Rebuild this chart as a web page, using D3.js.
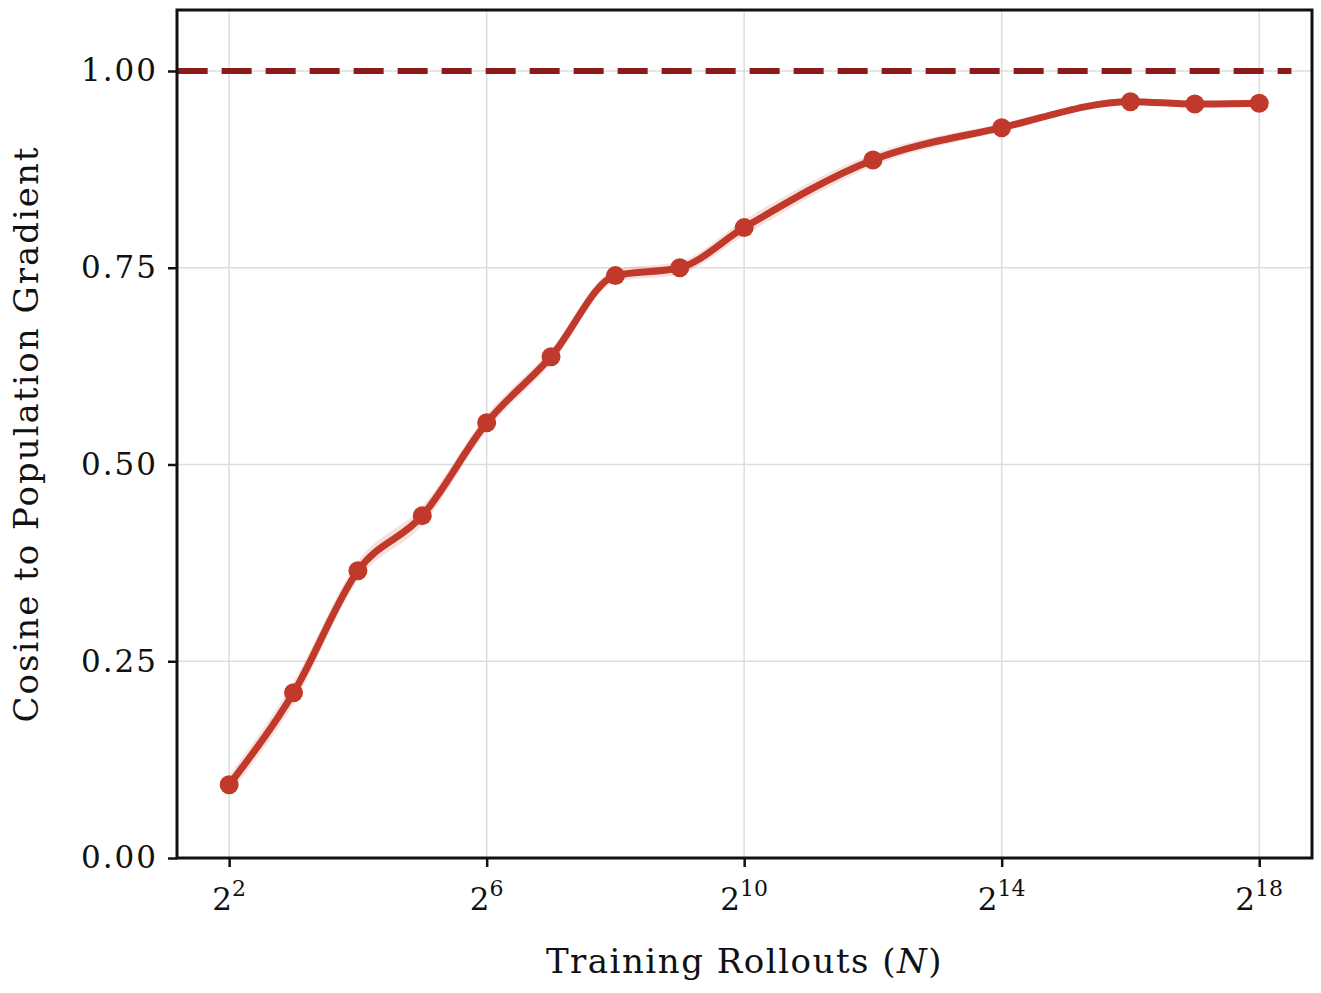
<!DOCTYPE html>
<html><head><meta charset="utf-8">
<script src="https://cdn.jsdelivr.net/npm/d3@7"></script>
<style>body{margin:0;background:#fff}text{font-family:"DejaVu Serif",serif;fill:#111}</style>
</head><body>
<script>
// exponents of 2 for the rollout counts
const exponents = [2, 3, 4, 5, 6, 7, 8, 9, 10, 12, 14, 16, 17, 18];
const cosine = [0.093, 0.210, 0.365, 0.435, 0.553, 0.637, 0.740, 0.750, 0.801, 0.887, 0.928, 0.961, 0.958, 0.959];
const bandWidth = [0.012, 0.014, 0.012, 0.012, 0.010, 0.009, 0.008, 0.008, 0.010, 0.008, 0.005, 0.004, 0.003, 0.003];
const yTicks = [0, 0.25, 0.5, 0.75, 1.0];
const xTicks = [2, 6, 10, 14, 18];

const W = 1321, H = 993;
const m = {left: 177, right: 9, top: 10, bottom: 135};
const svg = d3.select("body").append("svg").attr("width", W).attr("height", H);

const x = d3.scaleLinear().domain([1.19, 18.82]).range([m.left, W - m.right]);
const y = d3.scaleLinear().domain([0, 1.0775]).range([H - m.bottom, m.top]);

// grid
svg.append("g").selectAll("line").data(xTicks).enter().append("line")
  .attr("x1", d => x(d)).attr("x2", d => x(d)).attr("y1", m.top).attr("y2", H - m.bottom)
  .attr("stroke", "#ddd").attr("stroke-width", 1.5);
svg.append("g").selectAll("line").data(yTicks).enter().append("line")
  .attr("y1", d => y(d)).attr("y2", d => y(d)).attr("x1", m.left).attr("x2", W - m.right)
  .attr("stroke", "#ddd").attr("stroke-width", 1.5);

// reference line at 1
svg.append("line").attr("x1", x(1.2)).attr("x2", x(18.5))
  .attr("y1", y(1)).attr("y2", y(1))
  .attr("stroke", "#8b1a1a").attr("stroke-width", 6).attr("stroke-dasharray", "30,14");

const pts = exponents.map((e, i) => ({e, v: cosine[i], s: bandWidth[i]}));

// uncertainty band
svg.append("path").datum(pts)
  .attr("d", d3.area().x(d => x(d.e)).y0(d => y(d.v - d.s)).y1(d => y(d.v + d.s)).curve(d3.curveMonotoneX))
  .attr("fill", "#c0392b").attr("opacity", 0.15);

svg.append("path").datum(pts)
  .attr("d", d3.line().x(d => x(d.e)).y(d => y(d.v)).curve(d3.curveMonotoneX))
  .attr("fill", "none").attr("stroke", "#c0392b").attr("stroke-width", 7).attr("stroke-linejoin", "round");

svg.append("g").selectAll("circle").data(pts).enter().append("circle")
  .attr("cx", d => x(d.e)).attr("cy", d => y(d.v)).attr("r", 9.5).attr("fill", "#c0392b");

// axes
const yAxis = svg.append("g").attr("transform", `translate(${m.left},0)`)
  .call(d3.axisLeft(y).tickValues(yTicks).tickFormat(d3.format(".2f")).tickSize(9).tickPadding(10));
yAxis.selectAll("text").style("font-size", "31px").style("letter-spacing", "2px");
const xAxis = svg.append("g").attr("transform", `translate(0,${H - m.bottom})`)
  .call(d3.axisBottom(x).tickValues(xTicks).tickFormat("").tickSize(9));
[yAxis, xAxis].forEach(a => { a.select(".domain").remove(); a.selectAll("line").attr("stroke", "#111").attr("stroke-width", 2.5); });

const xl = svg.append("g").selectAll("text").data(xTicks).enter().append("text")
  .attr("x", d => x(d)).attr("y", H - m.bottom + 52).attr("text-anchor", "middle").style("font-size", "31px");
xl.append("tspan").text("2");
xl.append("tspan").attr("dy", -14).style("font-size", "22px").text(d => d);

svg.append("rect").attr("x", m.left).attr("y", m.top)
  .attr("width", W - m.left - m.right).attr("height", H - m.top - m.bottom)
  .attr("fill", "none").attr("stroke", "#111").attr("stroke-width", 3);

const xt = svg.append("text").attr("x", (m.left + W - m.right) / 2).attr("y", 973)
  .attr("text-anchor", "middle").style("font-size", "34px").style("letter-spacing", "1.5px");
xt.append("tspan").text("Training Rollouts (");
xt.append("tspan").style("font-style", "italic").text("N");
xt.append("tspan").text(")");

svg.append("text").attr("transform", `translate(38,${(m.top + H - m.bottom) / 2}) rotate(-90)`)
  .attr("text-anchor", "middle").style("font-size", "34px").style("letter-spacing", "2px")
  .text("Cosine to Population Gradient");
</script>
</body></html>
